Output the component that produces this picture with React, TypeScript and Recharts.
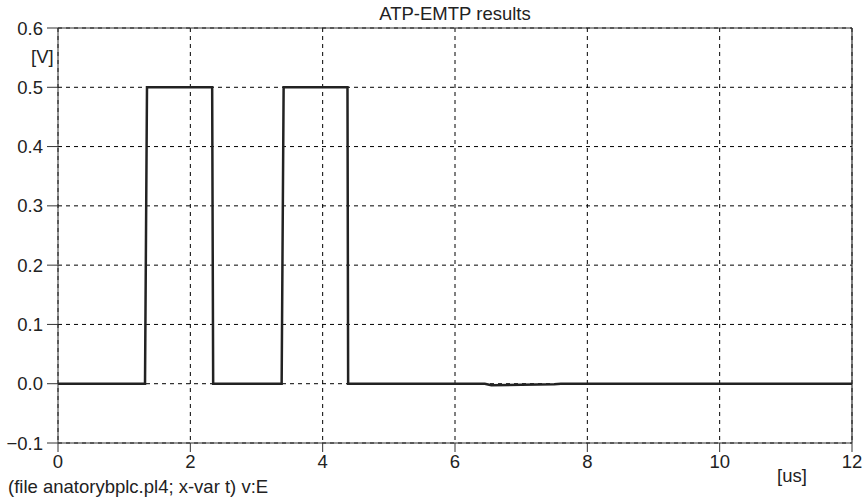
import React from 'react';
import {
  LineChart,
  Line,
  XAxis,
  YAxis,
  CartesianGrid,
  ReferenceLine,
} from 'recharts';

// time in us, voltage in V
const timeUs = [0, 1.315, 1.345, 2.33, 2.345, 3.38, 3.41, 4.375, 4.385, 6.45, 6.55, 7.0, 7.5, 7.6, 12];
const voltage = [0, 0, 0.5, 0.5, 0, 0, 0.5, 0.5, 0, 0, -0.0025, -0.0018, -0.001, 0, 0];

const xTicks = [0, 2, 4, 6, 8, 10, 12];
const yTicks = [-0.1, 0, 0.1, 0.2, 0.3, 0.4, 0.5, 0.6];

const data = timeUs.map((t, i) => ({ t, v: voltage[i] }));

const font = '"Liberation Sans", Arial, sans-serif';
const fs = 18.5;
const tickStyle = { fontFamily: font, fontSize: fs, fill: '#222' };

export default function App() {
  return (
    <div style={{ position: 'relative', width: 867, height: 500, background: '#fff', fontFamily: font, color: '#222' }}>
      <style>{'body{margin:0}'}</style>
      <LineChart
        width={867}
        height={500}
        data={data}
        margin={{ top: 28, right: 15, left: 8, bottom: 27 }}
      >
        <CartesianGrid stroke="#000" strokeDasharray="4 4" strokeWidth={1} />
        <XAxis
          dataKey="t"
          type="number"
          domain={[0, 12]}
          ticks={xTicks}
          height={30}
          tickSize={9}
          tickMargin={3}
          tick={tickStyle}
          stroke="#333"
          interval={0}
        />
        <YAxis
          type="number"
          domain={[-0.1, 0.6]}
          ticks={yTicks}
          width={50}
          tickSize={11}
          tickMargin={4}
          tick={tickStyle}
          stroke="#333"
          interval={0}
          tickFormatter={(v: number) => (v < 0 ? '\u2212' + Math.abs(v).toFixed(1) : v.toFixed(1))}
        />
        <ReferenceLine y={0.6} stroke="#333" strokeWidth={1.2} />
        <ReferenceLine x={12} stroke="#333" strokeWidth={1.2} />
        <Line
          type="linear"
          dataKey="v"
          stroke="#222"
          strokeWidth={2.5}
          dot={false}
          isAnimationActive={false}
        />
      </LineChart>
      <div style={{ position: 'absolute', left: 0, width: 910, top: 3, textAlign: 'center', fontSize: fs }}>
        ATP-EMTP results
      </div>
      <div style={{ position: 'absolute', left: 31, top: 46, fontSize: fs }}>[V]</div>
      <div style={{ position: 'absolute', left: 777, top: 465, fontSize: fs }}>[us]</div>
      <div style={{ position: 'absolute', left: 8, top: 476, fontSize: fs, whiteSpace: 'nowrap' }}>
        (file anatorybplc.pl4; x-var t) v:E
      </div>
    </div>
  );
}
